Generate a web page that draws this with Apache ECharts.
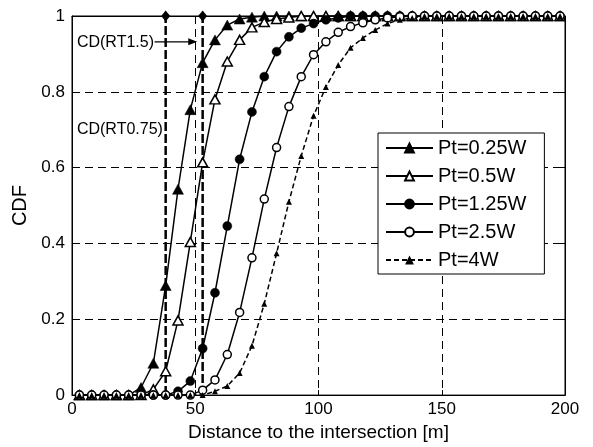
<!DOCTYPE html>
<html>
<head>
<meta charset="utf-8">
<script src="https://cdn.jsdelivr.net/npm/echarts@6/dist/echarts.min.js"></script>
<style>
  html, body { margin: 0; padding: 0; background: #fff; }
  #chart { width: 593px; height: 447px; }
</style>
</head>
<body>
<div id="chart"></div>
<script>
// Distance samples [m]
const distance = [3, 8, 13, 18, 23, 28, 33, 38, 43, 48, 53, 58, 63, 68, 73, 78, 83, 88, 93, 98,
  103, 108, 113, 118, 123, 128, 133, 138, 143, 148, 153, 158, 163, 168, 173, 178, 183, 188, 193, 198];

// CDF per transmit power
const cdfPt025 = [0, 0, 0, 0, 0, 0.02, 0.084, 0.289, 0.543, 0.753, 0.877, 0.937, 0.976, 0.992, 0.997,
  1, 1, 1, 1, 1, 1, 1, 1, 1, 1, 1, 1, 1, 1, 1, 1, 1, 1, 1, 1, 1, 1, 1, 1, 1];
const cdfPt05 = [0, 0, 0, 0, 0, 0, 0.015, 0.063, 0.197, 0.404, 0.614, 0.78, 0.88, 0.937, 0.97, 0.984,
  0.992, 0.996, 1, 1, 1, 1, 1, 1, 1, 1, 1, 1, 1, 1, 1, 1, 1, 1, 1, 1, 1, 1, 1, 1];
const cdfPt125 = [0, 0, 0, 0, 0, 0, 0, 0, 0.01, 0.037, 0.123, 0.27, 0.446, 0.622, 0.747, 0.84, 0.906,
  0.945, 0.968, 0.98, 0.99, 0.995, 1, 1, 1, 1, 1, 1, 1, 1, 1, 1, 1, 1, 1, 1, 1, 1, 1, 1];
const cdfPt25 = [0, 0, 0, 0, 0, 0, 0, 0, 0, 0, 0.013, 0.04, 0.107, 0.218, 0.362, 0.517, 0.653, 0.761,
  0.84, 0.898, 0.932, 0.957, 0.972, 0.982, 0.99, 0.995, 0.998, 1, 1, 1, 1, 1, 1, 1, 1, 1, 1, 1, 1, 1];
const cdfPt4 = [0, 0, 0, 0, 0, 0, 0, 0, 0, 0, 0, 0.01, 0.024, 0.058, 0.13, 0.241, 0.374, 0.51, 0.631,
  0.737, 0.813, 0.871, 0.916, 0.942, 0.963, 0.98, 0.99, 0.995, 1, 1, 1, 1, 1, 1, 1, 1, 1, 1, 1, 1];

const seriesNames = ['Pt=0.25W', 'Pt=0.5W', 'Pt=1.25W', 'Pt=2.5W', 'Pt=4W'];

// Critical distances
const cdNames = ['CD(RT0.75)', 'CD(RT1.5)'];
const cdDistance = [38, 53];

// Axis ticks
const xTicks = [0, 50, 100, 150, 200];
const yTicks = [0, 0.2, 0.4, 0.6, 0.8, 1];

const FONT = '"Liberation Sans", Arial, Helvetica, sans-serif';
const pairs = (ys) => distance.map((d, i) => [d, ys[i]]);

function curve(name, ys, opts) {
  return Object.assign({
    name: name,
    type: 'line',
    data: pairs(ys),
    showAllSymbol: true,
    symbolKeepAspect: true,
    lineStyle: { color: '#000', width: 1.5 },
    z: 3
  }, opts);
}

const series = [
  curve(seriesNames[0], cdfPt025, {
    symbol: 'triangle', symbolSize: [11, 10],
    itemStyle: { color: '#000', borderColor: '#000', borderWidth: 0.5 }
  }),
  curve(seriesNames[1], cdfPt05, {
    symbol: 'triangle', symbolSize: [10, 9],
    itemStyle: { color: '#fff', borderColor: '#000', borderWidth: 1.5 }
  }),
  curve(seriesNames[2], cdfPt125, {
    symbol: 'circle', symbolSize: 9,
    itemStyle: { color: '#000', borderColor: '#000', borderWidth: 0.5 }
  }),
  curve(seriesNames[3], cdfPt25, {
    symbol: 'circle', symbolSize: 8,
    itemStyle: { color: '#fff', borderColor: '#000', borderWidth: 1.5 }
  }),
  curve(seriesNames[4], cdfPt4, {
    symbol: 'triangle', symbolSize: [6, 6],
    itemStyle: { color: '#000' },
    lineStyle: { color: '#000', width: 1.5, type: [5, 3] }
  })
];

// Vertical critical-distance markers, diamond on top
cdDistance.forEach((d, i) => {
  series.push({
    name: cdNames[i],
    type: 'line',
    data: [{ value: [d, 0], symbol: 'none' }, { value: [d, 1] }],
    symbol: 'diamond',
    symbolSize: [9, 11],
    itemStyle: { color: '#000' },
    lineStyle: { color: '#000', width: 2.5, type: [9, 3] },
    z: 2
  });
});

const chart = echarts.init(document.getElementById('chart'), null, { renderer: 'canvas' });

const axisCommon = {
  axisLine: { show: true, onZero: false, lineStyle: { color: '#000', width: 1 } },
  axisTick: { show: true, inside: true, length: 5, lineStyle: { color: '#000' } }
};

chart.setOption({
  animation: false,
  backgroundColor: '#fff',
  textStyle: { fontFamily: FONT },
  grid: {
    left: 72, right: 28, top: 16, bottom: 50,
    show: true, borderColor: '#000', borderWidth: 1, backgroundColor: 'transparent'
  },
  legend: {
    data: seriesNames,
    orient: 'vertical',
    left: 378, top: 133,
    itemWidth: 47, itemHeight: 11, itemGap: 8,
    padding: [5, 18, 4, 7],
    backgroundColor: '#fff',
    borderColor: '#000', borderWidth: 1, borderRadius: 0,
    textStyle: { fontSize: 20, fontFamily: FONT, color: '#000', lineHeight: 20 },
    selectedMode: false
  },
  xAxis: [
    Object.assign({
      type: 'value', min: xTicks[0], max: xTicks[xTicks.length - 1],
      interval: xTicks[1] - xTicks[0],
      name: 'Distance to the intersection [m]',
      nameLocation: 'middle', nameGap: 21,
      nameTextStyle: { fontSize: 19, color: '#000', fontFamily: FONT },
      axisLabel: { fontSize: 17, color: '#000', margin: 6, fontFamily: FONT },
      splitLine: { show: true, lineStyle: { color: '#000', width: 1, type: [8, 5] } }
    }, axisCommon),
    Object.assign({
      type: 'value', position: 'top', min: xTicks[0], max: xTicks[xTicks.length - 1],
      interval: xTicks[1] - xTicks[0],
      axisLabel: { show: false }, splitLine: { show: false }
    }, axisCommon)
  ],
  yAxis: [
    Object.assign({
      type: 'value', min: yTicks[0], max: yTicks[yTicks.length - 1],
      interval: yTicks[1] - yTicks[0],
      name: 'CDF',
      nameLocation: 'middle', nameGap: 42,
      nameTextStyle: { fontSize: 20, color: '#000', fontFamily: FONT },
      axisLabel: { fontSize: 17, color: '#000', margin: 7, fontFamily: FONT },
      splitLine: { show: true, lineStyle: { color: '#000', width: 1, type: [8, 5] } }
    }, axisCommon),
    Object.assign({
      type: 'value', position: 'right', min: yTicks[0], max: yTicks[yTicks.length - 1],
      interval: yTicks[1] - yTicks[0],
      axisLabel: { show: false }, splitLine: { show: false }
    }, axisCommon)
  ],
  series: series
});

// Annotation labels and arrow, placed in data coordinates
const px = (x, y) => chart.convertToPixel({ gridIndex: 0 }, [x, y]);
const labelRT15 = px(2, 0.929);
const labelRT075 = px(2, 0.70);
const arrowStart = px(33.5, 0.932);
const arrowTip = px(50.8, 0.932);
const textStyle = { fill: '#000', font: '16px ' + FONT, textVerticalAlign: 'middle', textAlign: 'left' };

chart.setOption({
  graphic: [
    { type: 'text', x: labelRT15[0], y: labelRT15[1], z: 10,
      style: Object.assign({ text: cdNames[1] }, textStyle) },
    { type: 'text', x: labelRT075[0], y: labelRT075[1], z: 10,
      style: Object.assign({ text: cdNames[0] }, textStyle) },
    { type: 'line', z: 10,
      shape: { x1: arrowStart[0], y1: arrowStart[1], x2: arrowTip[0] - 6, y2: arrowTip[1] },
      style: { stroke: '#000', lineWidth: 1.2 } },
    { type: 'polygon', z: 10,
      shape: { points: [[arrowTip[0], arrowTip[1]], [arrowTip[0] - 9, arrowTip[1] - 3.5], [arrowTip[0] - 9, arrowTip[1] + 3.5]] },
      style: { fill: '#000' } }
  ]
});
</script>
</body>
</html>
